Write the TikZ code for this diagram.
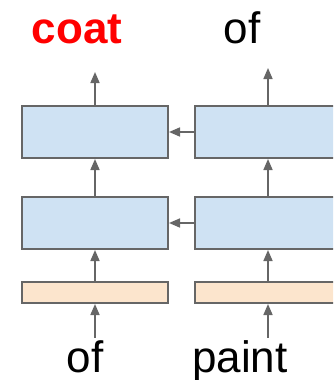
\documentclass[tikz,border=0pt]{standalone}
\usepackage{fontspec}
\setmainfont{Liberation Sans}
\usepackage{xcolor}
\usetikzlibrary{arrows.meta, positioning}

\definecolor{rnnblue}{HTML}{CFE2F3}
\definecolor{embpeach}{HTML}{FCE5CD}
\definecolor{edgegray}{HTML}{666666}

\begin{document}
\begin{tikzpicture}[x=1pt, y=-1pt,
  cell/.style={draw=edgegray, line width=2pt, fill=rnnblue, minimum width=146pt, minimum height=52pt, inner sep=0pt},
  emb/.style={draw=edgegray, line width=2pt, fill=embpeach, minimum width=146pt, minimum height=21pt, inner sep=0pt},
  word/.style={font=\fontsize{44}{48}\selectfont, inner sep=0pt, anchor=base},
  arr/.style={-{Triangle[length=11pt, width=9pt]}, draw=edgegray, line width=1.6pt}]
\clip (0,0) rectangle (333,380);

\node[cell] (top1) at (95,132) {};
\node[cell] (top2) at (268,132) {};
\node[cell] (mid1) at (95,223) {};
\node[cell] (mid2) at (268,223) {};
\node[emb] (emb1) at (95,292.5) {};
\node[emb] (emb2) at (268,292.5) {};

\node[word, text=red, font=\fontsize{44}{48}\selectfont\bfseries] (out1) at (77,43) {coat};
\node[word] (out2) at (242,43) {of};
\node[word] (in1) at (85,372) {of};
\node[word] (in2) at (240,372) {paint};

\coordinate (up1) at (95,72);
\coordinate (up2) at (268,68);

\draw[arr] (top1.north) -- (up1);
\draw[arr] (top2.north) -- (up2);
\draw[arr] (mid1) -- (top1);
\draw[arr] (mid2) -- (top2);
\draw[arr] (emb1) -- (mid1);
\draw[arr] (emb2) -- (mid2);
\draw[arr] (in1.north -| emb1.south) ++(0,-2) -- (emb1.south);
\draw[arr] (in2.north -| emb2.south) ++(0,-2) -- (emb2.south);
\draw[arr] (top2) -- (top1);
\draw[arr] (mid2) -- (mid1);
\end{tikzpicture}
\end{document}
